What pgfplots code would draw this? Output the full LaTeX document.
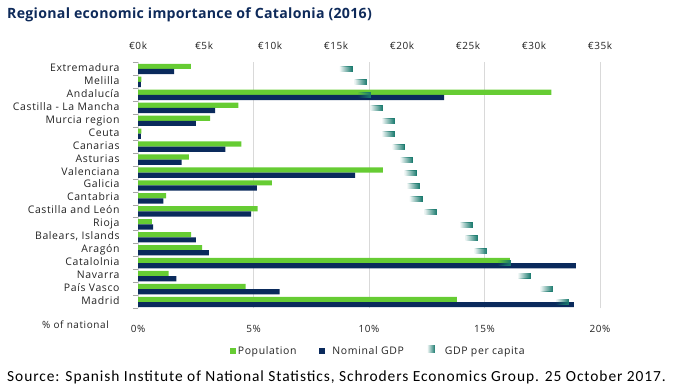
\documentclass[border=0pt]{standalone}
\usepackage{fontspec}
\setmainfont{Open Sans}
\newfontfamily\labfont[LetterSpace=6]{Open Sans}
\newfontfamily\titlefont[LetterSpace=2]{Open Sans}
\newfontfamily\srcfont[LetterSpace=6]{Carlito}
\usepackage{pgfplots}
\pgfplotsset{compat=1.18}
\usepackage{pgfplotstable}
\usetikzlibrary{fadings}

\definecolor{popgreen}{HTML}{66CC33}
\definecolor{gdpnavy}{HTML}{0A2A5C}
\definecolor{pccol}{HTML}{1A7A6E}
\definecolor{titlenavy}{HTML}{0E2A5A}
\definecolor{gridgray}{HTML}{D9D9D9}
\definecolor{tickgray}{HTML}{A6A6A6}
\definecolor{txt}{HTML}{222222}

\tikzfading[name=fadeleft, left color=transparent!100, right color=transparent!0]
\pgfdeclareplotmark{gradbar}{\fill[pccol, path fading=fadeleft] (-12.5bp,-2.5bp) rectangle (0bp,2.5bp);}

\pgfplotstableread{
y pop gdp pc
18 2.29 1.56 16.2
17 0.15 0.12 17.3
16 17.90 13.25 17.6
15 4.34 3.34 18.5
14 3.12 2.51 19.4
13 0.15 0.12 19.4
12 4.47 3.78 20.2
11 2.20 1.89 20.8
10 10.60 9.40 21.1
9 5.80 5.15 21.3
8 1.22 1.10 21.5
7 5.18 4.90 22.6
6 0.60 0.66 25.3
5 2.30 2.51 25.7
4 2.78 3.07 26.4
3 16.10 18.96 28.2
2 1.33 1.66 29.7
1 4.66 6.13 31.4
0 13.80 18.87 32.6
}\data

\begin{document}
\begin{tikzpicture}
\useasboundingbox (0,0) rectangle (700bp,391bp);

\begin{axis}[
  at={(138bp,82.5bp)}, anchor=south west, scale only axis,
  width=462bp, height=246bp,
  xmin=0, xmax=20, ymin=-0.5, ymax=18.5,
  axis line style={draw=none},
  xtick={0,5,10,15,20},
  xticklabels={0\%,5\%,10\%,15\%,20\%},
  xmajorgrids, grid style={draw=gridgray, line width=0.8bp},
  major x tick style={draw=none},
  xticklabel style={anchor=center, yshift=-16.5bp, font=\labfont\fontsize{10}{12}\selectfont, text=txt, inner sep=0pt},
  ytick={0,...,18},
  yticklabels={Madrid, País Vasco, Navarra, Catalolnia, Aragón, {Balears, Islands}, Rioja, Castilla and León, Cantabria, Galicia, Valenciana, Asturias, Canarias, Ceuta, Murcia region, Castilla - La Mancha, Andalucía, Melilla, Extremadura},
  major y tick style={draw=none},
  minor ytick={-0.5,0.5,...,18.5},
  minor y tick style={draw=tickgray, line width=0.8bp},
  minor tick length=5bp,
  tick align=outside,
  ytick pos=left, xtick pos=bottom,
  yticklabel style={anchor=east, inner sep=0pt, xshift=-14bp, text height=7.5bp, text depth=2.5bp, font=\labfont\fontsize{10.5}{12}\selectfont, text=txt},
  legend columns=3,
  legend style={at={(0.52,-0.174)}, anchor=center, draw=none, fill=none,
    font=\labfont\fontsize{10.5}{12}\selectfont, text=txt,
    /tikz/every even column/.append style={column sep=21bp}},
  legend cell align=left,
]
\addplot[xbar, bar width=5.2bp, bar shift=2.6bp, fill=popgreen, draw=none,
  legend image code/.code={\fill[popgreen] (0bp,-3bp) rectangle (6bp,3bp);}]
  table[x=pop, y=y]{\data};
\addlegendentry{Population}
\addplot[xbar, bar width=5.2bp, bar shift=-2.6bp, fill=gdpnavy, draw=none,
  legend image code/.code={\fill[gdpnavy] (0bp,-3bp) rectangle (6bp,3bp);\path[draw=none,fill=none] (0bp,0bp) -- (11bp,0bp);}]
  table[x=gdp, y=y]{\data};
\addlegendentry{Nominal GDP}
\addlegendimage{draw=none, legend image code/.code={\fill[pccol, path fading=fadeleft] (0bp,-2bp) rectangle (8bp,6bp);\path[draw=none,fill=none] (0bp,0bp) -- (16bp,0bp);}}
\addlegendentry{GDP per capita}
\end{axis}

\begin{axis}[
  at={(138bp,82.5bp)}, anchor=south west, scale only axis,
  width=462bp, height=246bp,
  xmin=0, xmax=35, ymin=-0.5, ymax=18.5,
  axis line style={draw=none},
  xtick={0,5,...,35},
  xticklabels={€0k,€5k,€10k,€15k,€20k,€25k,€30k,€35k},
  xticklabel pos=right,
  major tick length=0pt,
  xticklabel style={anchor=center, yshift=17bp, font=\labfont\fontsize{10}{12}\selectfont, text=txt, inner sep=0pt},
  ytick=\empty,
]
\addplot[only marks, mark=gradbar] table[x=pc, y=y]{\data};
\end{axis}

\node[anchor=base west, inner sep=0pt, font=\titlefont\bfseries\fontsize{14.2}{17}\selectfont, text=titlenavy] at (7bp,372bp) {Regional economic importance of Catalonia (2016)};
\node[anchor=west, inner sep=0pt, font=\labfont\fontsize{10}{12}\selectfont, text=txt] at (42bp,66bp) {\% of national};
\node[anchor=base west, inner sep=0pt, font=\srcfont\fontsize{15.5}{18}\selectfont, text=black] at (7bp,10bp) {Source: Spanish Institute of National Statistics, Schroders Economics Group. 25 October 2017.};
\end{tikzpicture}
\end{document}
